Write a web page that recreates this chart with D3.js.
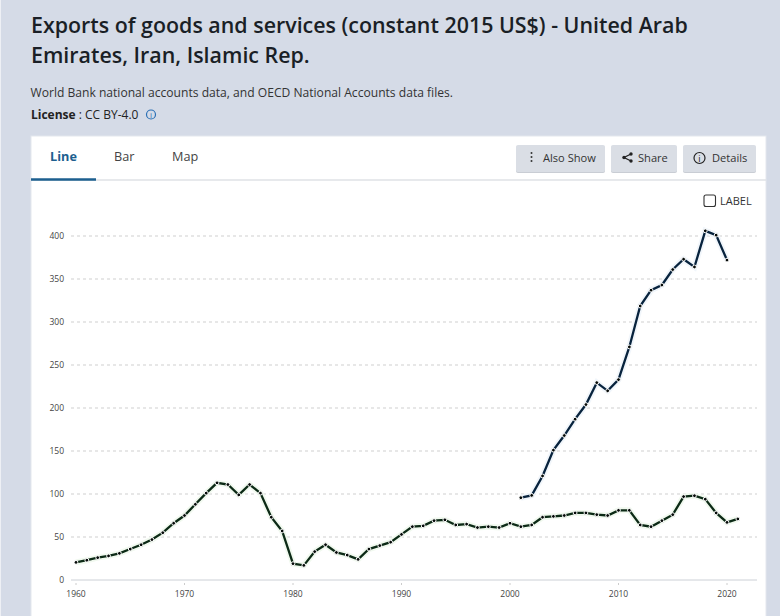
<!DOCTYPE html>
<html>
<head>
<meta charset="utf-8">
<script src="https://cdn.jsdelivr.net/npm/d3@7"></script>
<style>
html, body { margin: 0; padding: 0; background: #d5dbe7; }
svg { display: block; }
</style>
</head>
<body>
<svg id="mySvg" width="780" height="616"></svg>
<script>
var svg = d3.select("#mySvg");

const fontName = "'Open Sans', sans-serif";

const titleLines = ["Exports of goods and services (constant 2015 US$) - United Arab", "Emirates, Iran, Islamic Rep."];
const sourceText = "World Bank national accounts data, and OECD National Accounts data files.";
const tabNames = ["Line", "Bar", "Map"];
const yTicks = [0, 50, 100, 150, 200, 250, 300, 350, 400];
const xTicks = [1960, 1970, 1980, 1990, 2000, 2010, 2020];

const iranYears = d3.range(1960, 2022);
const iranValues = [20.5, 23, 26, 28, 31, 36, 41, 47, 55, 66, 75, 88, 101, 113, 111, 99, 111, 101, 73, 57,
    19, 17, 33, 41, 32, 29, 24, 36, 40, 44, 53, 62, 63, 69, 70, 64, 65, 61, 62, 61,
    66, 62, 64, 73, 74, 75, 78, 78, 76, 75, 81, 81, 64, 62, 69, 76, 97, 98, 94, 78, 67, 71];
const uaeYears = d3.range(2001, 2021);
const uaeValues = [95.7, 98.4, 121, 151, 168, 187, 204, 229.5, 220, 233, 271, 318.6, 337, 343, 361, 373, 364, 406, 401, 372];

const x = d3.scaleLinear().domain([1960, 2020]).range([76, 727]);
const y = d3.scaleLinear().domain([0, 400]).range([580, 236]);

// pale strip on the left edge
svg.append("rect").attr("x", 0).attr("y", 0).attr("width", 1).attr("height", 616).attr("fill", "#eef0f5");

// heading
svg.selectAll(".title").data(titleLines).join("text")
    .attr("x", 31).attr("y", (d, i) => 33 + i * 30)
    .attr("font-family", fontName).attr("font-size", 21.4).attr("font-weight", 600)
    .attr("fill", "#1a1f26").text(d => d);
svg.append("text").attr("x", 30.5).attr("y", 97)
    .attr("font-family", fontName).attr("font-size", 12.1).attr("fill", "#333").text(sourceText);
svg.append("text").attr("x", 31).attr("y", 119)
    .attr("font-family", fontName).attr("font-size", 12).attr("fill", "#222")
    .html("<tspan font-weight='700'>License</tspan> : CC BY-4.0");
svg.append("circle").attr("cx", 151).attr("cy", 114.5).attr("r", 4.5)
    .attr("fill", "none").attr("stroke", "#2a6fb5").attr("stroke-width", 1.2);
svg.append("text").attr("x", 151).attr("y", 117.5).attr("text-anchor", "middle")
    .attr("font-family", fontName).attr("font-size", 8).attr("fill", "#2a6fb5").text("i");

// card
svg.append("rect").attr("x", 31).attr("y", 136).attr("width", 735).attr("height", 490)
    .attr("fill", "#fff").attr("stroke", "#e4e7ee");
svg.append("line").attr("x1", 31).attr("x2", 766).attr("y1", 180).attr("y2", 180)
    .attr("stroke", "#dfe2e6").attr("stroke-width", 1.5);
svg.append("line").attr("x1", 31).attr("x2", 96).attr("y1", 179.5).attr("y2", 179.5)
    .attr("stroke", "#1d5f8f").attr("stroke-width", 2.5);

// tabs
svg.selectAll(".tab").data(tabNames).join("text")
    .attr("x", (d, i) => [50, 114, 172][i]).attr("y", 160.5)
    .attr("font-family", fontName).attr("font-size", 12.7)
    .attr("font-weight", (d, i) => i == 0 ? 700 : 400)
    .attr("fill", (d, i) => i == 0 ? "#1d5f8f" : "#444").text(d => d);

// buttons
function addButton(bx, bw, label, tx) {
    svg.append("rect").attr("x", bx).attr("y", 146).attr("width", bw).attr("height", 27).attr("rx", 2)
        .attr("fill", "#c9cdd4");
    svg.append("rect").attr("x", bx).attr("y", 145).attr("width", bw).attr("height", 27).attr("rx", 2)
        .attr("fill", "#dadee5");
    svg.append("text").attr("x", tx).attr("y", 161.5)
        .attr("font-family", fontName).attr("font-size", 11.1).attr("fill", "#333").text(label);
}
addButton(516, 89, "Also Show", 543);
addButton(611, 66, "Share", 638);
addButton(683, 73, "Details", 712);

// also show dots
svg.selectAll(".dot").data([153, 157, 161]).join("circle")
    .attr("cx", 531.5).attr("cy", d => d).attr("r", 1).attr("fill", "#333");
// share icon
svg.append("path").attr("d", "M631 154L624 157.5L631 161").attr("fill", "none").attr("stroke", "#222").attr("stroke-width", 1.3);
svg.selectAll(".shareDot").data([[631, 154], [624, 157.5], [631, 161]]).join("circle")
    .attr("cx", d => d[0]).attr("cy", d => d[1]).attr("r", 1.7).attr("fill", "#222");
// details icon
svg.append("circle").attr("cx", 699.5).attr("cy", 158).attr("r", 5.5)
    .attr("fill", "none").attr("stroke", "#222").attr("stroke-width", 1.2);
svg.append("text").attr("x", 699.5).attr("y", 161.5).attr("text-anchor", "middle")
    .attr("font-family", fontName).attr("font-size", 9).attr("fill", "#222").text("i");

// label checkbox
svg.append("rect").attr("x", 704).attr("y", 195).attr("width", 11.5).attr("height", 11.5).attr("rx", 2)
    .attr("fill", "#fff").attr("stroke", "#333").attr("stroke-width", 1.1);
svg.append("text").attr("x", 720).attr("y", 204.5)
    .attr("font-family", fontName).attr("font-size", 11).attr("fill", "#333").text("LABEL");

// grid and axes
svg.selectAll(".grid").data(yTicks.slice(1)).join("line")
    .attr("x1", 71).attr("x2", 757).attr("y1", d => y(d)).attr("y2", d => y(d))
    .attr("stroke", "#cfcfcf").attr("stroke-width", 1).attr("stroke-dasharray", "3,3");
svg.selectAll(".yLabel").data(yTicks).join("text")
    .attr("x", 64).attr("y", d => y(d) + 3).attr("text-anchor", "end")
    .attr("font-family", fontName).attr("font-size", 8.5).attr("fill", "#444").text(d => d);
svg.append("line").attr("x1", 71).attr("x2", 757).attr("y1", 580).attr("y2", 580)
    .attr("stroke", "#ccd0d6").attr("stroke-width", 1);
svg.selectAll(".xTick").data(xTicks).join("line")
    .attr("x1", d => x(d)).attr("x2", d => x(d)).attr("y1", 583).attr("y2", 585)
    .attr("stroke", "#ccc");
svg.selectAll(".xLabel").data(xTicks).join("text")
    .attr("x", d => x(d)).attr("y", 597).attr("text-anchor", "middle")
    .attr("font-family", fontName).attr("font-size", 8.5).attr("fill", "#444").text(d => d);

// series
function drawSeries(years, values, color, halo) {
    const pts = years.map((yr, i) => ({ yr: yr, v: values[i] }));
    const line = d3.line().x(d => x(d.yr)).y(d => y(d.v));
    svg.append("path").datum(pts).attr("d", line)
        .attr("fill", "none").attr("stroke", halo).attr("stroke-width", 6);
    svg.append("path").datum(pts).attr("d", line)
        .attr("fill", "none").attr("stroke", color).attr("stroke-width", 2.3);
    svg.append("g").selectAll("circle").data(pts).join("circle")
        .attr("cx", d => x(d.yr)).attr("cy", d => y(d.v)).attr("r", 1.9)
        .attr("fill", "#050a08").attr("stroke", "#fff").attr("stroke-width", 1);
}
drawSeries(iranYears, iranValues, "#0c2a16", "#f1f9ef");
drawSeries(uaeYears, uaeValues, "#08233d", "#f1f6fb");
</script>
</body>
</html>
